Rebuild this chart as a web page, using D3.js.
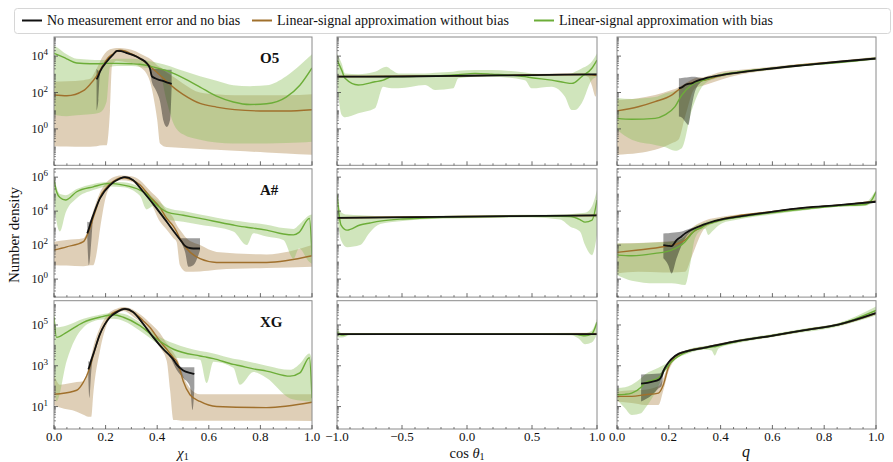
<!DOCTYPE html>
<html>
<head>
<meta charset="utf-8">
<script src="https://cdn.jsdelivr.net/npm/d3@7"></script>
<style>
  body { margin: 0; background: #fff; }
  svg { display: block; font-family: "Liberation Serif", "DejaVu Serif", serif; }
</style>
</head>
<body>
<div id="chart"></div>
<script>
// every row is [x, log10 median, log10 lower, log10 upper]

// ---- O5 ----
const o5ChiNoErr = [
  [0.165, 2.72, 1.0, 3.3], [0.172, 2.93, 1.6, 3.2], [0.178, 3.14, 3.0, 3.2], [0.204, 3.69, 3.62, 3.75],
  [0.23, 4.1, 4.05, 4.15], [0.245, 4.29, 4.24, 4.34], [0.26, 4.27, 4.22, 4.32], [0.28, 4.18, 4.13, 4.23],
  [0.307, 4.05, 4.0, 4.1], [0.333, 3.87, 3.82, 3.92], [0.36, 3.6, 3.55, 3.65], [0.372, 3.32, 3.25, 3.35],
  [0.379, 2.9, 2.6, 3.3], [0.392, 2.78, 2.2, 3.3], [0.411, 2.68, 1.5, 3.3], [0.425, 2.62, 0.4, 3.28],
  [0.437, 2.56, 0.1, 3.25], [0.45, 2.5, 0.5, 3.25], [0.456, 2.47, 2.3, 3.25]
];
const o5ChiNoBias = [
  [0, 1.86, -0.95, 2.6], [0.05, 1.82, -0.97, 2.62], [0.114, 2.1, -0.98, 2.68], [0.14, 2.45, -0.98, 2.75],
  [0.165, 2.9, -0.95, 3.3], [0.19, 3.5, -0.9, 4.0], [0.204, 3.8, -0.9, 4.25], [0.217, 4.0, 1.0, 4.38],
  [0.225, 4.08, 3.5, 4.4], [0.243, 4.28, 3.75, 4.45], [0.256, 4.32, 3.72, 4.45], [0.275, 4.28, 3.68, 4.42],
  [0.3, 4.12, 3.62, 4.35], [0.333, 3.88, 3.4, 4.15], [0.36, 3.6, 3.0, 3.95], [0.372, 3.45, 2.6, 3.85],
  [0.385, 3.28, 1.8, 3.7], [0.4, 3.1, 0.5, 3.5], [0.411, 2.95, -0.8, 3.4], [0.437, 2.6, -1.0, 3.1],
  [0.47, 2.2, -1.02, 2.8], [0.5, 1.9, -1.05, 2.5], [0.566, 1.4, -1.1, 2.0], [0.63, 1.2, -1.15, 1.9],
  [0.7, 1.06, -1.2, 1.85], [0.824, 0.98, -1.3, 1.85], [0.9, 0.98, -1.35, 1.85], [1.0, 1.05, -1.42, 1.9]
];
const o5ChiWithBias = [
  [0, 4.15, 0.8, 4.6], [0.01, 4.1, 0.75, 4.5], [0.049, 3.85, 0.7, 4.1], [0.088, 3.62, 0.75, 3.85],
  [0.14, 3.58, 0.8, 3.8], [0.178, 3.58, 0.9, 3.78], [0.204, 3.6, 1.5, 3.8], [0.217, 3.6, 3.4, 3.82],
  [0.243, 3.6, 3.45, 3.85], [0.3, 3.58, 3.45, 3.85], [0.333, 3.55, 3.4, 3.82], [0.372, 3.45, 3.3, 3.72],
  [0.411, 3.3, 3.0, 3.6], [0.437, 3.2, 1.5, 3.5], [0.463, 3.05, 0.3, 3.38], [0.5, 2.8, -0.3, 3.2],
  [0.566, 2.3, -0.6, 2.9], [0.63, 1.8, -0.75, 2.65], [0.695, 1.48, -0.8, 2.4], [0.76, 1.34, -0.8, 2.35],
  [0.824, 1.38, -0.8, 2.4], [0.9, 1.75, -0.78, 2.9], [0.953, 2.4, -0.75, 3.5], [1.0, 3.35, -0.7, 4.1]
];
const o5CosNoErr = [[-1, 2.87, 2.84, 2.9], [-0.5, 2.88, 2.85, 2.91], [0, 2.92, 2.89, 2.95], [0.5, 2.96, 2.93, 2.99], [1, 3.0, 2.97, 3.03]];
const o5CosNoBias = [
  [-1, 2.88, 2.83, 2.93], [-0.5, 2.89, 2.84, 2.94], [0, 2.93, 2.88, 2.98], [0.5, 2.97, 2.92, 3.02],
  [0.9, 2.99, 2.94, 3.04], [0.933, 2.99, 2.85, 3.04], [0.96, 2.97, 2.4, 3.03], [0.99, 2.95, 1.77, 3.03], [1, 2.95, 2.5, 3.03]
];
const o5CosWithBias = [
  [-1, 3.78, 2.5, 4.15], [-0.964, 3.23, 0.77, 3.6], [-0.938, 2.78, 0.64, 3.05], [-0.836, 2.41, 0.86, 3.01],
  [-0.708, 2.59, 1.13, 3.14], [-0.644, 2.68, 2.32, 3.38], [-0.618, 2.76, 2.28, 3.42], [-0.579, 2.87, 2.23, 3.23],
  [-0.528, 2.87, 2.23, 3.05], [-0.323, 2.9, 2.41, 3.05], [-0.246, 2.92, 2.14, 3.09], [-0.105, 2.96, 2.23, 3.14],
  [-0.067, 2.98, 2.78, 3.2], [0.062, 3.05, 2.87, 3.23], [0.19, 3.01, 2.87, 3.23], [0.446, 2.87, 2.68, 3.1],
  [0.497, 2.81, 2.23, 3.05], [0.651, 2.68, 2.32, 3.0], [0.754, 2.54, 1.77, 3.0], [0.805, 2.5, 1.04, 3.05],
  [0.831, 2.56, 1.04, 3.14], [0.882, 2.87, 1.41, 3.32], [0.959, 3.32, 2.68, 3.69], [1, 3.78, 2.87, 4.15]
];
const o5QNoErr = [
  [0.239, 2.23, 0.68, 2.78], [0.25, 2.28, 0.62, 2.8], [0.263, 2.41, 0.4, 2.82], [0.275, 2.47, 0.22, 2.84],
  [0.288, 2.5, 1.22, 2.86], [0.301, 2.59, 2.05, 2.87], [0.327, 2.72, 2.6, 2.8], [0.34, 2.78, 2.75, 2.81],
  [0.404, 2.96, 2.93, 2.99], [0.468, 3.09, 3.06, 3.12], [0.597, 3.32, 3.29, 3.35], [0.726, 3.51, 3.48, 3.54],
  [0.855, 3.69, 3.66, 3.72], [1, 3.87, 3.84, 3.9]
];
const o5QNoBias = [
  [0, 0.99, -1.42, 1.59], [0.082, 1.22, -1.33, 1.68], [0.147, 1.5, -1.15, 1.86], [0.211, 1.86, -0.79, 2.14],
  [0.237, 2.14, -0.6, 2.28], [0.263, 2.41, 0.68, 2.5], [0.301, 2.59, 2.23, 2.78], [0.34, 2.68, 2.41, 2.87],
  [0.404, 2.94, 2.72, 3.14], [0.468, 3.1, 2.96, 3.23], [0.597, 3.32, 3.23, 3.42], [0.726, 3.54, 3.45, 3.6],
  [0.855, 3.69, 3.63, 3.74], [1, 3.87, 3.82, 3.96]
];
const o5QWithBias = [
  [0, 0.58, -0.05, 1.7], [0.057, 0.53, -0.6, 1.65], [0.147, 0.58, -0.88, 1.75], [0.185, 0.77, -1.0, 1.95],
  [0.224, 1.22, -1.2, 2.1], [0.25, 1.86, -1.06, 2.3], [0.288, 2.41, 1.0, 2.55], [0.34, 2.7, 2.5, 2.8],
  [0.404, 2.98, 2.85, 3.05], [0.468, 3.12, 3.03, 3.18], [0.597, 3.32, 3.25, 3.38], [0.726, 3.51, 3.45, 3.56],
  [0.855, 3.65, 3.6, 3.7], [1, 3.87, 3.8, 3.95]
];

// ---- A# ----
const aChiNoErr = [
  [0.129, 2.69, 2.4, 3.37], [0.135, 2.95, 0.82, 3.35], [0.146, 3.5, 2.5, 3.6], [0.152, 3.76, 3.7, 3.8],
  [0.178, 4.75, 4.7, 4.8], [0.217, 5.53, 5.48, 5.58], [0.256, 5.92, 5.87, 5.97], [0.275, 6.0, 5.95, 6.05],
  [0.307, 5.82, 5.77, 5.87], [0.346, 5.14, 5.09, 5.19], [0.398, 4.16, 4.11, 4.21], [0.437, 3.37, 3.32, 3.42],
  [0.475, 2.59, 2.54, 2.64], [0.495, 2.2, 2.1, 2.4], [0.508, 1.95, 1.6, 2.4], [0.521, 1.85, 0.73, 2.4],
  [0.54, 1.8, 0.82, 2.4], [0.566, 1.8, 1.7, 2.4]
];
const aChiNoBias = [
  [0, 1.71, 0.82, 2.2], [0.049, 1.9, 0.8, 2.3], [0.114, 2.2, 0.75, 2.4], [0.129, 2.6, 0.78, 2.8],
  [0.14, 3.0, 0.82, 3.37], [0.152, 3.6, 0.82, 4.0], [0.165, 4.2, 1.5, 4.6], [0.178, 4.8, 2.9, 5.1],
  [0.204, 5.4, 5.0, 5.7], [0.23, 5.75, 5.63, 6.0], [0.26, 5.97, 5.82, 6.1], [0.3, 5.85, 5.75, 6.05],
  [0.333, 5.55, 5.3, 5.82], [0.372, 4.85, 4.6, 5.2], [0.411, 4.2, 3.37, 4.6], [0.437, 3.57, 2.9, 4.0],
  [0.463, 3.1, 2.4, 3.6], [0.475, 2.8, 2.2, 3.2], [0.488, 2.4, 0.82, 2.9], [0.514, 1.8, 0.43, 2.4],
  [0.566, 1.2, 0.45, 2.0], [0.63, 0.98, 0.55, 1.6], [0.824, 0.98, 0.65, 1.45], [1.0, 1.37, 0.73, 2.0]
];
const aChiWithBias = [
  [0, 5.82, 4.75, 6.0], [0.01, 5.14, 3.37, 5.4], [0.023, 4.8, 2.8, 5.0], [0.045, 4.65, 3.9, 4.94],
  [0.088, 5.14, 4.75, 5.3], [0.152, 5.43, 5.24, 5.6], [0.217, 5.63, 5.45, 5.73], [0.269, 5.53, 5.4, 5.7],
  [0.333, 5.24, 4.9, 5.4], [0.359, 5.0, 4.1, 5.15], [0.385, 4.55, 4.3, 4.8], [0.411, 4.2, 3.8, 4.5],
  [0.437, 3.96, 3.5, 4.2], [0.501, 3.76, 3.37, 4.0], [0.566, 3.57, 3.2, 3.8], [0.695, 3.18, 2.8, 3.45],
  [0.747, 3.05, 2.0, 3.35], [0.773, 3.0, 2.7, 3.3], [0.824, 2.88, 2.5, 3.2], [0.889, 2.65, 2.3, 3.0],
  [0.928, 2.6, 1.2, 2.95], [0.95, 2.75, 1.8, 3.2], [0.99, 3.57, 1.0, 3.75], [1.0, 1.4, 0.9, 3.8]
];
const aCosNoErr = [[-1, 3.6, 3.57, 3.63], [0, 3.68, 3.65, 3.71], [1, 3.75, 3.72, 3.78]];
const aCosNoBias = [[-1, 3.61, 3.56, 3.66], [0, 3.68, 3.63, 3.73], [0.95, 3.74, 3.68, 3.8], [1, 3.76, 3.6, 3.9]];
const aCosWithBias = [
  [-1, 4.94, 3.76, 5.24], [-0.969, 3.18, 2.29, 3.94], [-0.923, 2.88, 1.88, 3.8], [-0.823, 3.18, 2.0, 3.76],
  [-0.746, 3.3, 2.76, 3.72], [-0.669, 3.41, 3.24, 3.7], [-0.515, 3.53, 3.41, 3.68], [-0.362, 3.58, 3.5, 3.7],
  [0, 3.66, 3.58, 3.75], [0.5, 3.7, 3.62, 3.78], [0.715, 3.7, 3.5, 3.8], [0.792, 3.68, 3.1, 3.82],
  [0.869, 3.5, 2.8, 3.88], [0.908, 3.35, 2.0, 3.9], [0.962, 3.47, 1.41, 4.3], [1, 4.65, 2.59, 5.24]
];
const aQNoErr = [
  [0.179, 2.0, 1.22, 2.69], [0.198, 1.96, 0.82, 2.7], [0.211, 1.94, 0.33, 2.72], [0.23, 2.29, 1.22, 2.75],
  [0.25, 2.52, 2.0, 2.8], [0.263, 2.69, 2.39, 2.88], [0.314, 3.08, 3.03, 3.13], [0.404, 3.51, 3.47, 3.55],
  [0.468, 3.67, 3.63, 3.71], [0.597, 3.96, 3.92, 4.0], [0.726, 4.2, 4.16, 4.24], [0.855, 4.35, 4.31, 4.39],
  [1, 4.55, 4.51, 4.59]
];
const aQNoBias = [
  [0, 1.57, 0.33, 2.1], [0.082, 1.71, 0.43, 2.12], [0.179, 1.9, 0.39, 2.2], [0.237, 2.1, 0.4, 2.29],
  [0.263, 2.3, 0.43, 2.6], [0.288, 2.69, 1.3, 3.0], [0.34, 3.18, 3.0, 3.45], [0.404, 3.53, 3.4, 3.67],
  [0.468, 3.73, 3.62, 3.8], [0.597, 3.96, 3.9, 4.0], [0.726, 4.2, 4.15, 4.24], [0.855, 4.35, 4.3, 4.39],
  [1, 4.59, 4.5, 4.63]
];
const aQWithBias = [
  [0, 1.41, 0.24, 2.1], [0.057, 1.37, -0.1, 2.1], [0.147, 1.51, -0.25, 2.15], [0.211, 1.71, -0.25, 2.2],
  [0.263, 2.2, -0.35, 2.5], [0.282, 2.55, 0.82, 2.8], [0.301, 2.88, 2.39, 3.1], [0.327, 3.03, 2.9, 3.25],
  [0.34, 3.18, 2.98, 3.35], [0.353, 3.25, 2.59, 3.42], [0.366, 3.3, 2.78, 3.47], [0.404, 3.47, 3.27, 3.6],
  [0.468, 3.63, 3.5, 3.75], [0.597, 3.9, 3.8, 3.98], [0.726, 4.12, 4.05, 4.2], [0.855, 4.31, 4.25, 4.38],
  [0.958, 4.39, 4.3, 4.5], [0.983, 4.65, 4.45, 4.85], [1, 5.14, 4.55, 5.24]
];

// ---- XG ----
const xgChiNoErr = [
  [0.133, 2.82, 2.4, 3.23], [0.137, 2.95, 1.41, 3.2], [0.145, 3.3, 2.8, 3.4], [0.152, 3.56, 3.5, 3.6],
  [0.178, 4.55, 4.5, 4.6], [0.217, 5.38, 5.33, 5.43], [0.243, 5.63, 5.58, 5.68], [0.275, 5.79, 5.74, 5.84],
  [0.307, 5.63, 5.58, 5.68], [0.346, 5.05, 5.0, 5.1], [0.385, 4.39, 4.34, 4.44], [0.424, 3.81, 3.76, 3.86],
  [0.45, 3.48, 3.43, 3.53], [0.463, 3.3, 3.1, 3.35], [0.475, 3.07, 2.8, 3.12], [0.501, 2.77, 2.4, 2.93],
  [0.527, 2.65, 2.0, 2.93], [0.537, 2.62, 0.83, 2.93], [0.544, 2.6, 1.9, 2.93]
];
const xgChiNoBias = [
  [0, 1.61, 1.08, 2.57], [0.023, 1.63, 0.95, 2.07], [0.088, 1.8, 0.75, 2.2], [0.114, 2.2, 0.6, 2.24],
  [0.133, 2.7, 0.5, 2.9], [0.145, 3.2, 0.5, 3.5], [0.152, 3.5, 1.58, 3.9], [0.178, 4.55, 3.73, 4.88],
  [0.204, 5.2, 5.0, 5.45], [0.217, 5.46, 5.35, 5.63], [0.243, 5.68, 5.55, 5.8], [0.269, 5.79, 5.68, 5.88],
  [0.307, 5.63, 5.4, 5.75], [0.346, 5.2, 5.0, 5.4], [0.372, 4.88, 4.55, 5.1], [0.411, 4.2, 3.9, 4.6],
  [0.437, 3.81, 3.23, 4.1], [0.45, 3.6, 1.8, 3.9], [0.463, 3.4, 0.34, 3.65], [0.475, 3.23, 0.34, 3.4],
  [0.488, 2.8, 0.32, 3.0], [0.501, 2.24, 0.3, 2.5], [0.527, 1.58, 0.3, 1.9], [0.566, 1.25, 0.3, 1.6],
  [0.63, 1.0, 0.3, 1.6], [0.824, 0.95, 0.3, 1.6], [1.0, 1.21, 0.29, 1.6]
];
const xgChiWithBias = [
  [0, 5.38, 2.4, 5.79], [0.01, 4.39, 1.25, 4.88], [0.049, 4.64, 3.23, 4.97], [0.114, 5.13, 4.88, 5.3],
  [0.178, 5.38, 5.25, 5.5], [0.23, 5.5, 5.3, 5.6], [0.269, 5.38, 5.2, 5.55], [0.333, 4.97, 4.72, 5.13],
  [0.398, 4.31, 4.1, 4.5], [0.463, 3.81, 3.4, 4.1], [0.566, 3.48, 3.3, 3.73], [0.592, 3.42, 2.16, 3.68],
  [0.618, 3.35, 3.2, 3.6], [0.695, 3.07, 2.9, 3.35], [0.721, 3.0, 2.07, 3.3], [0.773, 2.85, 2.7, 3.15],
  [0.824, 2.74, 2.4, 3.0], [0.915, 2.49, 1.4, 2.8], [0.953, 2.65, 1.3, 3.1], [0.99, 3.4, 1.25, 3.6],
  [1.0, 1.41, 1.2, 3.3]
];
const xgCosNoErr = [[-1, 4.55, 4.52, 4.58], [1, 4.55, 4.52, 4.58]];
const xgCosNoBias = [[-1, 4.55, 4.51, 4.59], [0, 4.55, 4.51, 4.59], [1, 4.56, 4.5, 4.62]];
const xgCosWithBias = [
  [-1, 4.64, 4.4, 4.88], [-0.964, 4.5, 4.39, 4.6], [-0.9, 4.55, 4.5, 4.6], [0, 4.55, 4.52, 4.58],
  [0.8, 4.55, 4.5, 4.58], [0.856, 4.52, 4.35, 4.58], [0.908, 4.47, 4.06, 4.6], [0.959, 4.55, 4.14, 4.72],
  [1, 5.13, 4.55, 5.3]
];
const xgQNoErr = [
  [0.093, 2.12, 1.25, 2.57], [0.134, 2.21, 1.55, 2.6], [0.162, 2.32, 1.91, 2.62], [0.172, 2.49, 2.0, 2.7],
  [0.179, 2.74, 2.57, 2.85], [0.198, 3.15, 3.1, 3.2], [0.224, 3.48, 3.43, 3.53], [0.275, 3.73, 3.68, 3.78],
  [0.34, 3.89, 3.84, 3.94], [0.468, 4.22, 4.17, 4.27], [0.597, 4.47, 4.42, 4.52], [0.726, 4.75, 4.7, 4.8],
  [0.855, 5.02, 4.97, 5.07], [1, 5.58, 5.53, 5.63]
];
const xgQNoBias = [
  [0, 1.5, 1.25, 1.74], [0.057, 1.5, 1.17, 1.8], [0.108, 1.58, 1.08, 1.83], [0.16, 1.66, 1.08, 1.99],
  [0.179, 2.07, 1.8, 2.4], [0.198, 2.9, 2.7, 3.05], [0.224, 3.43, 3.3, 3.5], [0.275, 3.73, 3.68, 3.78],
  [0.34, 3.89, 3.84, 3.94], [0.468, 4.22, 4.17, 4.27], [0.597, 4.47, 4.42, 4.52], [0.726, 4.75, 4.7, 4.8],
  [0.855, 5.02, 4.97, 5.07], [1, 5.58, 5.53, 5.63]
];
const xgQWithBias = [
  [0, 1.58, 1.33, 1.91], [0.031, 1.6, 0.92, 1.95], [0.057, 1.66, 0.59, 2.07], [0.093, 1.95, 0.67, 2.4],
  [0.108, 2.16, 0.9, 2.57], [0.16, 2.4, 1.99, 2.9], [0.185, 2.8, 2.74, 3.07], [0.211, 3.2, 3.15, 3.35],
  [0.275, 3.7, 3.6, 3.8], [0.34, 3.87, 3.8, 3.97], [0.365, 3.92, 3.75, 4.0], [0.378, 3.93, 3.5, 4.02],
  [0.392, 3.98, 3.85, 4.06], [0.468, 4.2, 4.12, 4.28], [0.597, 4.47, 4.4, 4.55], [0.726, 4.75, 4.65, 4.83],
  [0.855, 5.02, 4.93, 5.1], [1, 5.71, 5.46, 5.91]
];

// axes
const populations = ["O5", "A#", "XG"];
const yLogDomains = [[-2.0, 5.05], [-1.06, 6.49], [-0.1, 6.19]];
const yLabelledDecades = [[0, 2, 4], [0, 2, 4, 6], [1, 3, 5]];
const xDomains = [[0, 1], [-1, 1], [0, 1]];
const xMajorTicks = [[0, 0.2, 0.4, 0.6, 0.8, 1.0], [-1, -0.5, 0, 0.5, 1], [0, 0.2, 0.4, 0.6, 0.8, 1.0]];
const xMinorSteps = [0.05, 0.1, 0.05];
const seriesLabels = ["No measurement error and no bias", "Linear-signal approximation without bias", "Linear-signal approximation with bias"];

const panelData = [
  [[o5ChiNoErr, o5ChiNoBias, o5ChiWithBias], [o5CosNoErr, o5CosNoBias, o5CosWithBias], [o5QNoErr, o5QNoBias, o5QWithBias]],
  [[aChiNoErr, aChiNoBias, aChiWithBias], [aCosNoErr, aCosNoBias, aCosWithBias], [aQNoErr, aQNoBias, aQWithBias]],
  [[xgChiNoErr, xgChiNoBias, xgChiWithBias], [xgCosNoErr, xgCosNoBias, xgCosWithBias], [xgQNoErr, xgQNoBias, xgQWithBias]]
];

// styles for noErr / noBias / withBias
const lineColors = ["#111111", "#a0702c", "#6cad38"];
const bandColors = ["#000000", "#b8955f", "#8fc260"];
const bandOpacity = [0.38, 0.45, 0.42];
const lineWidths = [1.8, 1.4, 1.4];

const W = 893, H = 462;
const colLeft = [54, 337, 617], colWidth = [258, 260, 259];
const rowTop = [37, 168.8, 300.7], rowHeight = 128.3;

class DensityPanel {
  constructor(_config, _rows) {
    this.config = {
      parent: _config.parent,
      id: _config.id,
      left: _config.left,
      top: _config.top,
      width: _config.width,
      height: _config.height,
      xDomain: _config.xDomain,
      yDomain: _config.yDomain,
      xMajor: _config.xMajor,
      xMinorStep: _config.xMinorStep,
      yLabelled: _config.yLabelled,
      showXLabels: _config.showXLabels,
      showYLabels: _config.showYLabels,
      tag: _config.tag
    };
    this.rows = _rows;
    this.initVis();
  }

  initVis() {
    let vis = this;
    vis.g = vis.config.parent.append("g")
      .attr("transform", `translate(${vis.config.left},${vis.config.top})`);

    vis.xScale = d3.scaleLinear()
      .domain(vis.config.xDomain)
      .range([0, vis.config.width]);

    vis.yScale = d3.scaleLog()
      .domain(vis.config.yDomain.map(d => Math.pow(10, d)))
      .range([vis.config.height, 0]);

    vis.g.append("clipPath")
      .attr("id", "clip" + vis.config.id)
      .append("rect")
      .attr("width", vis.config.width)
      .attr("height", vis.config.height);

    vis.plot = vis.g.append("g").attr("clip-path", `url(#clip${vis.config.id})`);
    vis.renderVis();
  }

  renderVis() {
    let vis = this;
    const w = vis.config.width, h = vis.config.height;

    const area = d3.area()
      .x(d => vis.xScale(d[0]))
      .y0(d => vis.yScale(Math.pow(10, d[2])))
      .y1(d => vis.yScale(Math.pow(10, d[3])))
      .curve(d3.curveMonotoneX);
    const line = d3.line()
      .x(d => vis.xScale(d[0]))
      .y(d => vis.yScale(Math.pow(10, d[1])))
      .curve(d3.curveMonotoneX);

    // draw order: without bias, with bias, then no error on top
    const order = [1, 2, 0];
    vis.plot.selectAll(".band")
      .data(order)
      .join("path")
      .attr("class", "band")
      .attr("d", i => area(vis.rows[i]))
      .attr("fill", i => bandColors[i])
      .attr("fill-opacity", i => bandOpacity[i]);

    vis.plot.selectAll(".median")
      .data(order)
      .join("path")
      .attr("class", "median")
      .attr("d", i => line(vis.rows[i]))
      .attr("fill", "none")
      .attr("stroke", i => lineColors[i])
      .attr("stroke-width", i => lineWidths[i]);

    // frame
    vis.g.append("rect")
      .attr("width", w).attr("height", h)
      .attr("fill", "none").attr("stroke", "#8a8a8a").attr("stroke-width", 1);

    // x ticks (inward)
    const [x0, x1] = vis.config.xDomain;
    const minor = d3.range(x0, x1 + 1e-9, vis.config.xMinorStep)
      .filter(v => !vis.config.xMajor.some(m => Math.abs(m - v) < 1e-6));
    vis.g.selectAll(".xminor").data(minor).join("line")
      .attr("class", "xminor")
      .attr("x1", d => vis.xScale(d)).attr("x2", d => vis.xScale(d))
      .attr("y1", h).attr("y2", h - 2)
      .attr("stroke", "#444").attr("stroke-width", 0.7);
    vis.g.selectAll(".xmajor").data(vis.config.xMajor).join("line")
      .attr("class", "xmajor")
      .attr("x1", d => vis.xScale(d)).attr("x2", d => vis.xScale(d))
      .attr("y1", h).attr("y2", h - 4)
      .attr("stroke", "#444").attr("stroke-width", 0.8);

    if (vis.config.showXLabels) {
      vis.g.selectAll(".xlab").data(vis.config.xMajor).join("text")
        .attr("class", "xlab")
        .attr("x", d => vis.xScale(d))
        .attr("y", h + 11.7)
        .attr("text-anchor", "middle")
        .attr("font-size", 13)
        .attr("fill", "#111")
        .text(d => (d < 0 ? "\u2212" : "") + Math.abs(d).toFixed(1));
    }

    // y ticks on log scale
    const [lo, hi] = vis.config.yDomain;
    let yMinor = [];
    for (let k = Math.floor(lo); k <= Math.ceil(hi); k++) {
      for (let m = 1; m <= 9; m++) {
        const v = k + Math.log10(m);
        if (v < lo || v > hi) continue;
        if (m === 1 && vis.config.yLabelled.includes(k)) continue;
        yMinor.push(v);
      }
    }
    vis.g.selectAll(".yminor").data(yMinor).join("line")
      .attr("class", "yminor")
      .attr("x1", 0).attr("x2", 2)
      .attr("y1", d => vis.yScale(Math.pow(10, d))).attr("y2", d => vis.yScale(Math.pow(10, d)))
      .attr("stroke", "#444").attr("stroke-width", 0.6);
    vis.g.selectAll(".ymajor").data(vis.config.yLabelled).join("line")
      .attr("class", "ymajor")
      .attr("x1", 0).attr("x2", 4)
      .attr("y1", d => vis.yScale(Math.pow(10, d))).attr("y2", d => vis.yScale(Math.pow(10, d)))
      .attr("stroke", "#444").attr("stroke-width", 0.8);

    if (vis.config.showYLabels) {
      const lab = vis.g.selectAll(".ylab").data(vis.config.yLabelled).join("text")
        .attr("class", "ylab")
        .attr("x", -6)
        .attr("y", d => vis.yScale(Math.pow(10, d)) + 4)
        .attr("text-anchor", "end")
        .attr("font-size", 12)
        .attr("fill", "#111");
      lab.append("tspan").text("10");
      lab.append("tspan").attr("dy", -5).attr("font-size", 9).text(d => d);
    }

    if (vis.config.tag) {
      vis.g.append("text")
        .attr("x", 206)
        .attr("y", 26)
        .attr("font-size", 15)
        .attr("font-weight", "bold")
        .attr("fill", "#111")
        .text(vis.config.tag);
    }
  }
}

const svg = d3.select("#chart").append("svg")
  .attr("width", W)
  .attr("height", H);

// legend
const legend = svg.append("g");
legend.append("rect")
  .attr("x", 14.5).attr("y", 8.5).attr("width", 876).attr("height", 25).attr("rx", 3)
  .attr("fill", "#fff").attr("stroke", "#d6d6d6");
const legendX = [22, 252, 534];
seriesLabels.forEach((s, i) => {
  legend.append("line")
    .attr("x1", legendX[i]).attr("x2", legendX[i] + 20)
    .attr("y1", 20.5).attr("y2", 20.5)
    .attr("stroke", lineColors[i]).attr("stroke-width", 2);
  legend.append("text")
    .attr("x", legendX[i] + 25).attr("y", 25)
    .attr("font-size", 14)
    .attr("fill", "#111")
    .text(s);
});

for (let r = 0; r < 3; r++) {
  for (let c = 0; c < 3; c++) {
    new DensityPanel({
      parent: svg,
      id: `p${r}${c}`,
      left: colLeft[c],
      top: rowTop[r],
      width: colWidth[c],
      height: rowHeight,
      xDomain: xDomains[c],
      yDomain: yLogDomains[r],
      xMajor: xMajorTicks[c],
      xMinorStep: xMinorSteps[c],
      yLabelled: yLabelledDecades[r],
      showXLabels: r === 2,
      showYLabels: c === 0,
      tag: c === 0 ? populations[r] : null
    }, panelData[r][c]);
  }
}

// axis titles
const xt1 = svg.append("text").attr("x", 183).attr("y", 457.5).attr("text-anchor", "middle").attr("font-size", 14.5).attr("fill", "#111");
xt1.append("tspan").attr("font-style", "italic").text("\u03c7");
xt1.append("tspan").attr("font-size", 10).attr("dy", 2).text("1");

const xt2 = svg.append("text").attr("x", 467).attr("y", 457.5).attr("text-anchor", "middle").attr("font-size", 14.5).attr("fill", "#111");
xt2.append("tspan").text("cos ");
xt2.append("tspan").attr("font-style", "italic").text("\u03b8");
xt2.append("tspan").attr("font-size", 10).attr("dy", 2).text("1");

svg.append("text").attr("x", 746).attr("y", 457).attr("text-anchor", "middle")
  .attr("font-size", 16).attr("font-style", "italic").attr("fill", "#111").text("q");

svg.append("text")
  .attr("transform", "translate(19,235) rotate(-90)")
  .attr("text-anchor", "middle")
  .attr("font-size", 15)
  .attr("fill", "#111")
  .text("Number density");
</script>
</body>
</html>
